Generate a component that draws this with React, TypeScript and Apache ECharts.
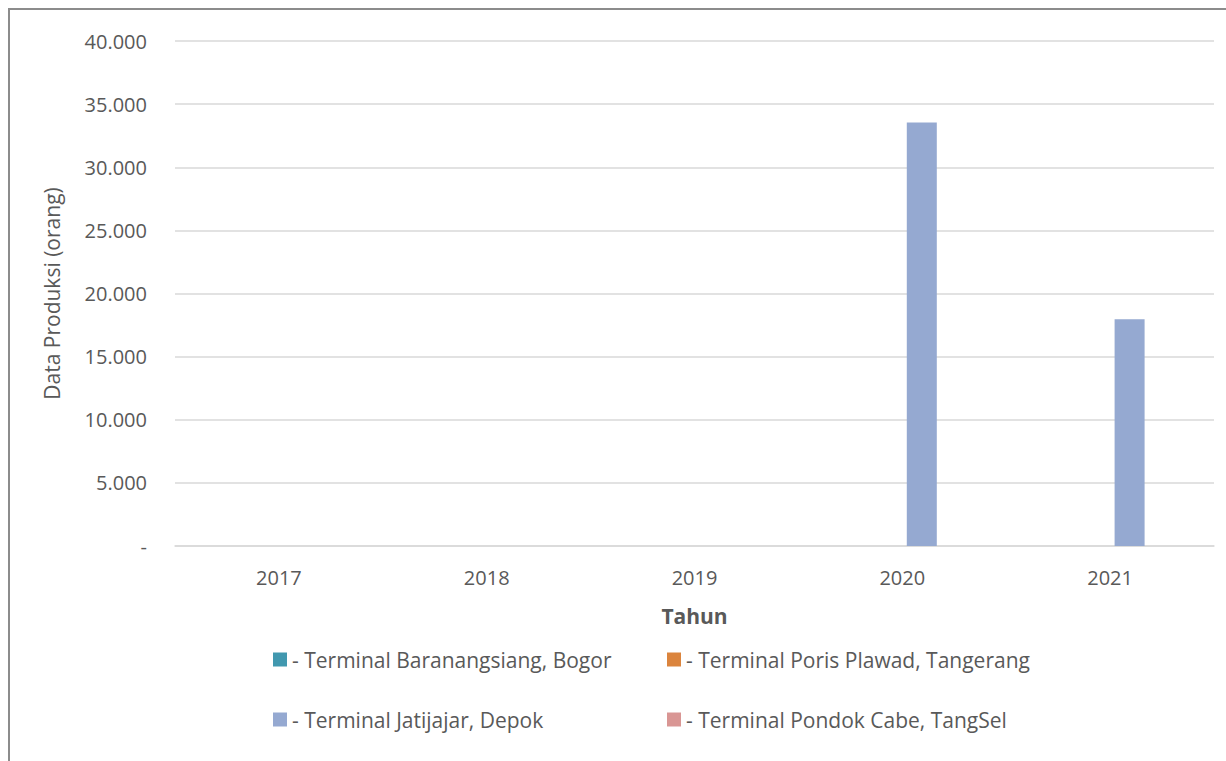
import React, { useEffect, useRef } from "react";
import * as echarts from "echarts";

const years = ["2017", "2018", "2019", "2020", "2021"];
const seriesNames = [
  "- Terminal Baranangsiang, Bogor",
  "- Terminal Poris Plawad, Tangerang",
  "- Terminal Jatijajar, Depok",
  "- Terminal Pondok Cabe, TangSel",
];
const baranangsiang = [0, 0, 0, 0, 0];
const porisPlawad = [0, 0, 0, 0, 0];
const jatijajar = [0, 0, 0, 33550, 17970];
const pondokCabe = [0, 0, 0, 0, 0];
const colors = ["#4198AF", "#DB843D", "#95A9D1", "#D99694"];

const fmt = (v: number) => {
  if (v === 0) return "-";
  return String(Math.round(v)).replace(/\B(?=(\d{3})+(?!\d))/g, ".");
};

export default function App() {
  const ref = useRef<HTMLDivElement>(null);
  useEffect(() => {
    if (!ref.current) return;
    const chart = echarts.init(ref.current, undefined, { renderer: "svg" });
    const font = "'Open Sans', 'Noto Sans', sans-serif";
    const allData = [baranangsiang, porisPlawad, jatijajar, pondokCabe];
    const legendText = { color: "#595959", fontSize: 21, fontFamily: font };
    const legendBase = {
      top: 649,
      orient: "vertical",
      itemGap: 39,
      itemWidth: 14,
      itemHeight: 14,
      padding: 0,
      icon: "rect",
      textStyle: legendText,
    };
    chart.setOption({
      animation: false,
      textStyle: { fontFamily: font },
      grid: { left: 175, right: 12, top: 41, bottom: 215, containLabel: false },
      xAxis: {
        type: "category",
        data: years,
        axisLine: { show: true, lineStyle: { color: "#d9d9d9", width: 1.5 } },
        axisTick: { show: false },
        axisLabel: { color: "#595959", fontSize: 20, margin: 21, fontFamily: font },
        name: "Tahun",
        nameLocation: "middle",
        nameGap: 59,
        nameTextStyle: { color: "#595959", fontSize: 21, fontWeight: "bold", fontFamily: font },
      },
      yAxis: {
        type: "value",
        min: 0,
        max: 40000,
        interval: 5000,
        axisLine: { show: false },
        axisTick: { show: false },
        splitLine: { lineStyle: { color: "#d9d9d9", width: 1.5 } },
        axisLabel: { color: "#595959", fontSize: 20, margin: 28, fontFamily: font, formatter: fmt },
        name: "Data Produksi (orang)",
        nameLocation: "middle",
        nameGap: 113,
        nameTextStyle: { color: "#595959", fontSize: 21, fontFamily: font },
      },
      legend: [
        { ...legendBase, left: 273, data: [seriesNames[0], seriesNames[2]] },
        { ...legendBase, left: 667, data: [seriesNames[1], seriesNames[3]] },
      ],
      graphic: [
        {
          type: "rect",
          shape: { x: 9, y: 9, width: 1400, height: 1000 },
          style: { fill: "none", stroke: "#8c8c8c", lineWidth: 2 },
          silent: true,
        },
      ],
      series: seriesNames.map((n, i) => ({
        name: n,
        type: "bar",
        data: allData[i],
        barWidth: 30,
        barGap: "30%",
        itemStyle: { color: colors[i] },
      })),
    });
    return () => chart.dispose();
  }, []);
  return (
    <div
      ref={ref}
      style={{ position: "fixed", left: 0, top: 0, width: 1226, height: 761, background: "#fff" }}
    />
  );
}
